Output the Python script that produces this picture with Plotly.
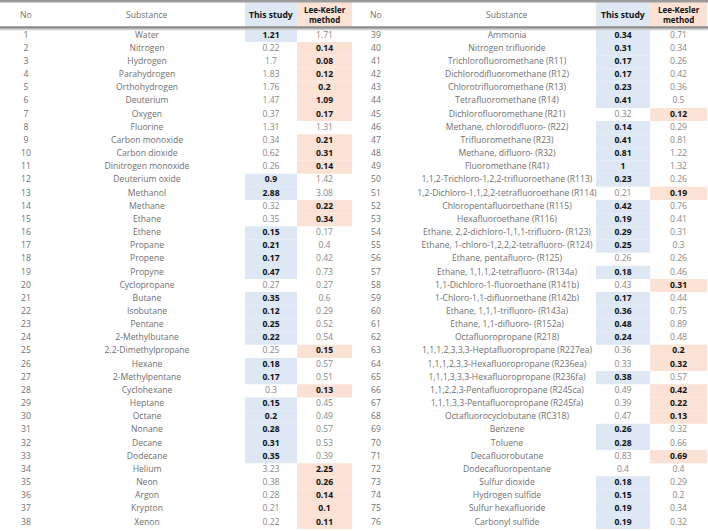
import plotly.graph_objects as go

# ---------------- data ----------------
no_left = list(range(1, 39))
substance_left = [
    "Water", "Nitrogen", "Hydrogen", "Parahydrogen", "Orthohydrogen", "Deuterium",
    "Oxygen", "Fluorine", "Carbon monoxide", "Carbon dioxide", "Dinitrogen monoxide",
    "Deuterium oxide", "Methanol", "Methane", "Ethane", "Ethene", "Propane", "Propene",
    "Propyne", "Cyclopropane", "Butane", "Isobutane", "Pentane", "2-Methylbutane",
    "2,2-Dimethylpropane", "Hexane", "2-Methylpentane", "Cyclohexane", "Heptane",
    "Octane", "Nonane", "Decane", "Dodecane", "Helium", "Neon", "Argon", "Krypton", "Xenon",
]
this_study_left = [
    1.21, 0.22, 1.7, 1.83, 1.76, 1.47, 0.37, 1.31, 0.34, 0.62, 0.26, 0.9, 2.88, 0.32,
    0.35, 0.15, 0.21, 0.17, 0.47, 0.27, 0.35, 0.12, 0.25, 0.22, 0.25, 0.18, 0.17, 0.3,
    0.15, 0.2, 0.28, 0.31, 0.35, 3.23, 0.38, 0.28, 0.21, 0.22,
]
lee_kesler_left = [
    1.71, 0.14, 0.08, 0.12, 0.2, 1.09, 0.17, 1.31, 0.21, 0.31, 0.14, 1.42, 3.08, 0.22,
    0.34, 0.17, 0.4, 0.42, 0.73, 0.27, 0.6, 0.29, 0.52, 0.54, 0.15, 0.57, 0.51, 0.13,
    0.45, 0.49, 0.57, 0.53, 0.39, 2.25, 0.26, 0.14, 0.1, 0.11,
]

no_right = list(range(39, 77))
substance_right = [
    "Ammonia", "Nitrogen trifluoride", "Trichlorofluoromethane (R11)",
    "Dichlorodifluoromethane (R12)", "Chlorotrifluoromethane (R13)",
    "Tetrafluoromethane (R14)", "Dichlorofluoromethane (R21)",
    "Methane, chlorodifluoro- (R22)", "Trifluoromethane (R23)", "Methane, difluoro- (R32)",
    "Fluoromethane (R41)", "1,1,2-Trichloro-1,2,2-trifluoroethane (R113)",
    "1,2-Dichloro-1,1,2,2-tetrafluoroethane (R114)", "Chloropentafluoroethane (R115)",
    "Hexafluoroethane (R116)", "Ethane, 2,2-dichloro-1,1,1-trifluoro- (R123)",
    "Ethane, 1-chloro-1,2,2,2-tetrafluoro- (R124)", "Ethane, pentafluoro- (R125)",
    "Ethane, 1,1,1,2-tetrafluoro- (R134a)", "1,1-Dichloro-1-fluoroethane (R141b)",
    "1-Chloro-1,1-difluoroethane (R142b)", "Ethane, 1,1,1-trifluoro- (R143a)",
    "Ethane, 1,1-difluoro- (R152a)", "Octafluoropropane (R218)",
    "1,1,1,2,3,3,3-Heptafluoropropane (R227ea)", "1,1,1,2,3,3-Hexafluoropropane (R236ea)",
    "1,1,1,3,3,3-Hexafluoropropane (R236fa)", "1,1,2,2,3-Pentafluoropropane (R245ca)",
    "1,1,1,3,3-Pentafluoropropane (R245fa)", "Octafluorocyclobutane (RC318)",
    "Benzene", "Toluene", "Decafluorobutane", "Dodecafluoropentane", "Sulfur dioxide",
    "Hydrogen sulfide", "Sulfur hexafluoride", "Carbonyl sulfide",
]
this_study_right = [
    0.34, 0.31, 0.17, 0.17, 0.23, 0.41, 0.32, 0.14, 0.41, 0.81, 1, 0.23, 0.21, 0.42,
    0.19, 0.29, 0.25, 0.26, 0.18, 0.43, 0.17, 0.36, 0.48, 0.24, 0.36, 0.33, 0.38, 0.49,
    0.39, 0.47, 0.26, 0.28, 0.83, 0.4, 0.18, 0.15, 0.19, 0.19,
]
lee_kesler_right = [
    0.71, 0.34, 0.26, 0.42, 0.36, 0.5, 0.12, 0.29, 0.81, 1.22, 1.32, 0.26, 0.19, 0.76,
    0.41, 0.31, 0.3, 0.26, 0.46, 0.31, 0.44, 0.75, 0.89, 0.48, 0.2, 0.32, 0.57, 0.42,
    0.22, 0.13, 0.32, 0.66, 0.69, 0.4, 0.29, 0.2, 0.34, 0.32,
]

header_labels = ["No", "Substance", "This study", "Lee-Kesler<br>method"]

# ---------------- style ----------------
W, H = 708, 531
ROW0 = 35.5      # pixel centre of first body row
PITCH = 13.16    # pixel height of a body row
FONT = "Open Sans"
FS = 8.6
GRAY_TXT = "#707070"
NUM_TXT = "#888888"
BOLD_TXT = "#111111"
BLUE = "#dde8f4"
ORANGE = "#fbe2d5"


def fmt(v):
    return f"{v:g}"


def py(p):  # pixel from top -> paper y
    return 1 - p / H


halves = [
    dict(no=no_left, sub=substance_left, ts=this_study_left, lk=lee_kesler_left,
         x_no=26, x_sub=147, ts_span=(245, 297), lk_span=(297, 352)),
    dict(no=no_right, sub=substance_right, ts=this_study_right, lk=lee_kesler_right,
         x_no=376, x_sub=507, ts_span=(596, 650), lk_span=(650, 707)),
]

fig = go.Figure()

for h in halves:
    rows = list(range(1, len(h["no"]) + 1))
    blue_rows = [r for r, a, b in zip(rows, h["ts"], h["lk"]) if a < b]
    orange_rows = [r for r, a, b in zip(rows, h["ts"], h["lk"]) if b < a]
    for rr, span, col in ((blue_rows, h["ts_span"], BLUE), (orange_rows, h["lk_span"], ORANGE)):
        fig.add_trace(go.Bar(
            y=rr, x=[span[1] - span[0]] * len(rr), base=[span[0]] * len(rr),
            orientation="h", width=1, marker=dict(color=col, line_width=0),
            hoverinfo="skip", showlegend=False))

    x_ts = (h["ts_span"][0] + h["ts_span"][1]) / 2
    x_lk = (h["lk_span"][0] + h["lk_span"][1]) / 2

    fig.add_trace(go.Scatter(
        x=[h["x_no"]] * len(rows), y=rows, mode="text",
        text=[str(v) for v in h["no"]],
        textfont=dict(family=FONT, size=FS, color=GRAY_TXT),
        hoverinfo="skip", showlegend=False))
    fig.add_trace(go.Scatter(
        x=[h["x_sub"]] * len(rows), y=rows, mode="text", text=h["sub"],
        textfont=dict(family=FONT, size=FS, color=GRAY_TXT),
        hoverinfo="skip", showlegend=False))

    ts_txt = [f"<b>{fmt(a)}</b>" if a < b else fmt(a) for a, b in zip(h["ts"], h["lk"])]
    ts_col = [BOLD_TXT if a < b else NUM_TXT for a, b in zip(h["ts"], h["lk"])]
    lk_txt = [f"<b>{fmt(b)}</b>" if b < a else fmt(b) for a, b in zip(h["ts"], h["lk"])]
    lk_col = [BOLD_TXT if b < a else NUM_TXT for a, b in zip(h["ts"], h["lk"])]
    fig.add_trace(go.Scatter(
        x=[x_ts] * len(rows), y=rows, mode="text", text=ts_txt,
        textfont=dict(family=FONT, size=FS, color=ts_col),
        hoverinfo="skip", showlegend=False))
    fig.add_trace(go.Scatter(
        x=[x_lk] * len(rows), y=rows, mode="text", text=lk_txt,
        textfont=dict(family=FONT, size=FS, color=lk_col),
        hoverinfo="skip", showlegend=False))

    # header backgrounds
    fig.add_shape(type="rect", xref="x", yref="paper", x0=h["ts_span"][0], x1=h["ts_span"][1],
                  y0=py(26.5), y1=py(2.5), fillcolor=BLUE, line_width=0, layer="below")
    fig.add_shape(type="rect", xref="x", yref="paper", x0=h["lk_span"][0], x1=h["lk_span"][1],
                  y0=py(26.5), y1=py(2.5), fillcolor=ORANGE, line_width=0, layer="below")
    # header texts
    common = dict(xref="x", yref="paper", showarrow=False, xanchor="center", yanchor="middle")
    fig.add_annotation(x=h["x_no"], y=py(15.5), text=header_labels[0],
                       font=dict(family=FONT, size=FS, color=GRAY_TXT), **common)
    fig.add_annotation(x=h["x_sub"], y=py(15.5), text=header_labels[1],
                       font=dict(family=FONT, size=FS, color=GRAY_TXT), **common)
    fig.add_annotation(x=x_ts, y=py(15.5), text=f"<b>{header_labels[2]}</b>",
                       font=dict(family=FONT, size=FS, color=BOLD_TXT), **common)
    fig.add_annotation(x=x_lk, y=py(15.0), text=f"<b>{header_labels[3]}</b>",
                       font=dict(family=FONT, size=8, color=BOLD_TXT), **common)

# rules
fig.add_shape(type="rect", xref="paper", yref="paper", x0=0, x1=1, y0=py(2.5), y1=py(0),
              fillcolor="#9a9a9a", line_width=0, layer="above")
fig.add_shape(type="rect", xref="paper", yref="paper", x0=0, x1=1, y0=py(28.8), y1=py(26.3),
              fillcolor="#8c8c8c", line_width=0, layer="above")
fig.add_shape(type="rect", xref="paper", yref="paper", x0=0, x1=1, y0=py(30.3), y1=py(28.8),
              fillcolor="#cfcfcf", line_width=0, layer="above")

fig.update_layout(
    width=W, height=H, margin=dict(l=0, r=0, t=0, b=0),
    paper_bgcolor="white", plot_bgcolor="white", barmode="overlay",
    xaxis=dict(range=[0, W], visible=False, fixedrange=True),
    yaxis=dict(range=[1 + (H - ROW0) / PITCH, 1 - ROW0 / PITCH], visible=False, fixedrange=True),
    showlegend=False,
)

fig.write_html(
    "out.html",
    config={"displayModeBar": False},
    post_script="document.body.style.margin='0';document.body.style.overflow='hidden';",
)
